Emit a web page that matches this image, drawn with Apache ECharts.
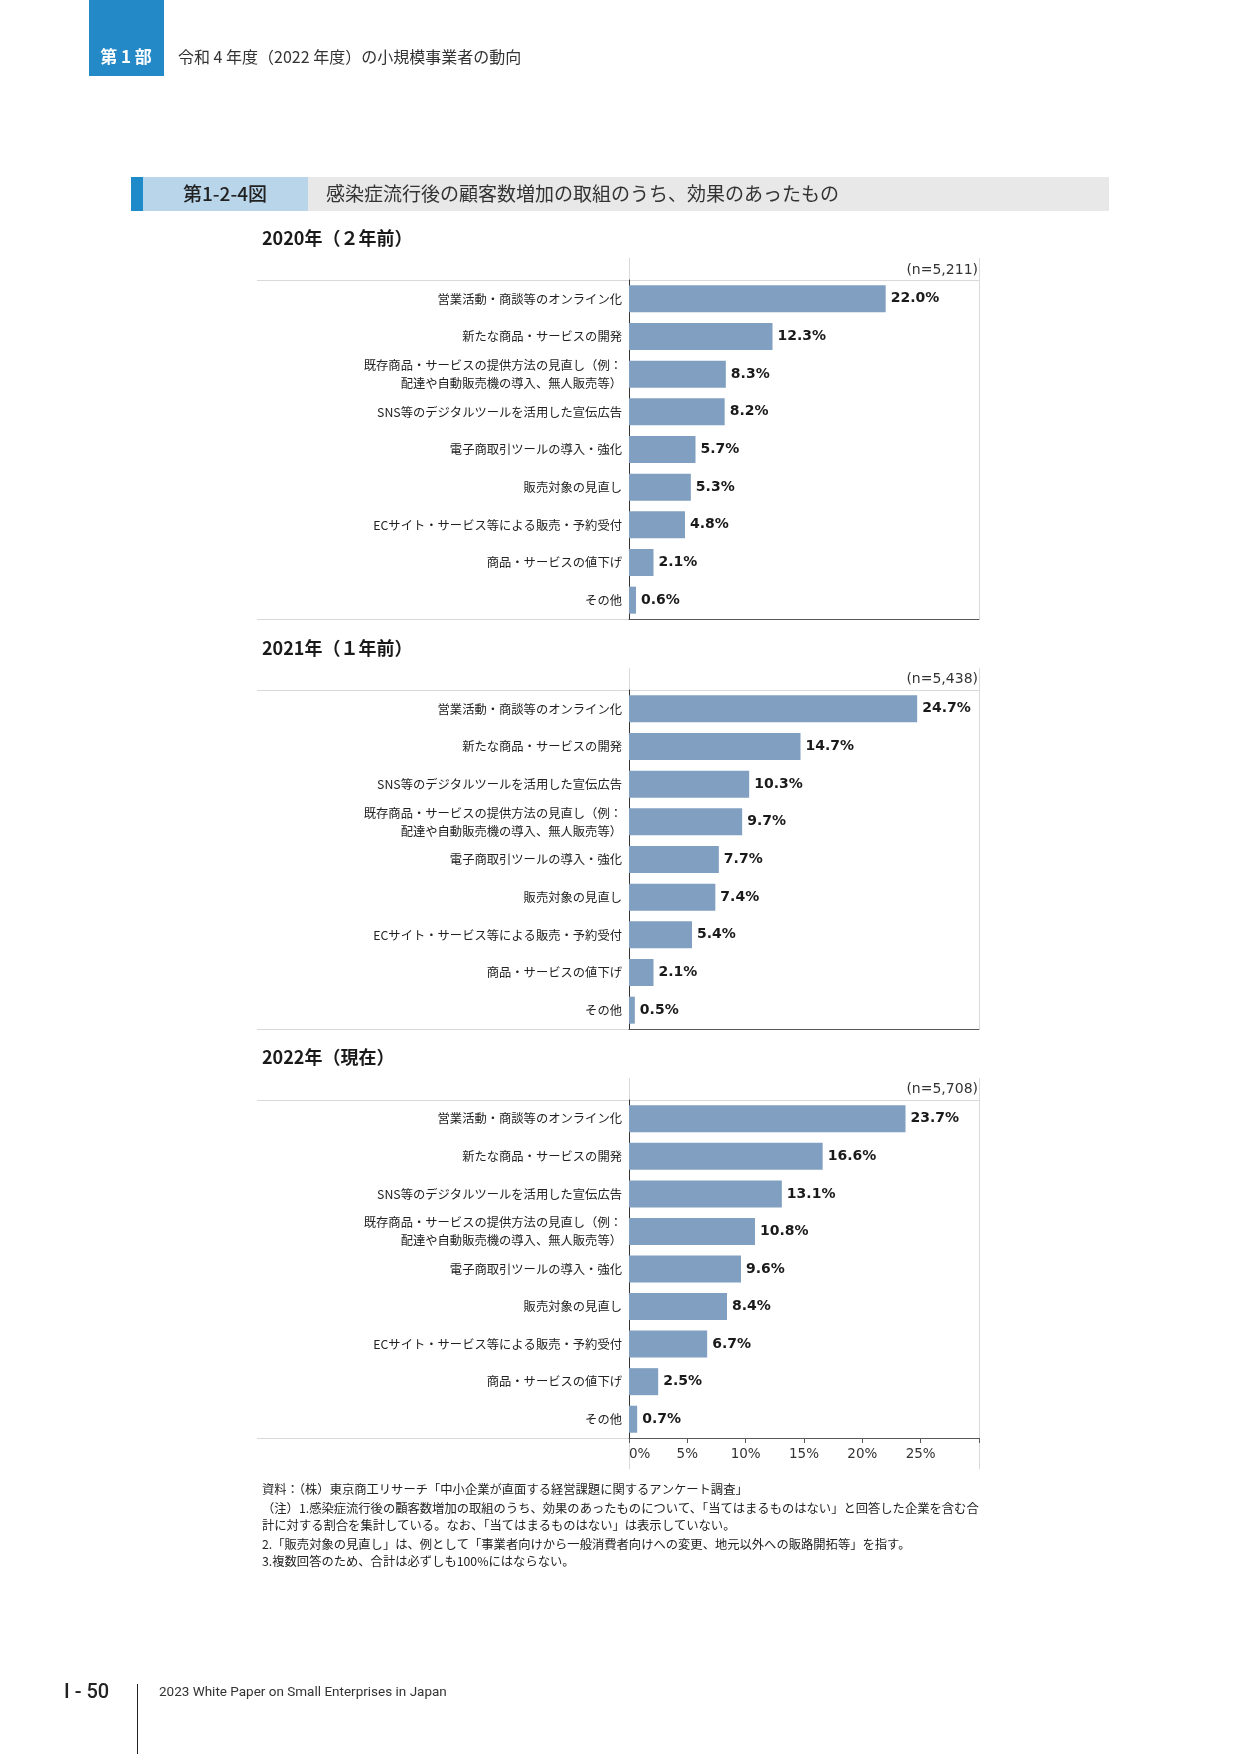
<!DOCTYPE html>
<html>
<head>
<meta charset="utf-8">
<script src="https://cdn.jsdelivr.net/npm/echarts@6/dist/echarts.min.js"></script>
<style>
html,body{margin:0;padding:0;background:#fff;}
#main{width:1241px;height:1754px;}
</style>
</head>
<body>
<div id="main"></div>
<script>
// データ
var cats2020 = ['営業活動・商談等のオンライン化', '新たな商品・サービスの開発', '既存商品・サービスの提供方法の見直し（例：\n配達や自動販売機の導入、無人販売等）', 'SNS等のデジタルツールを活用した宣伝広告', '電子商取引ツールの導入・強化', '販売対象の見直し', 'ECサイト・サービス等による販売・予約受付', '商品・サービスの値下げ', 'その他'];
var vals2020 = [22.0, 12.3, 8.3, 8.2, 5.7, 5.3, 4.8, 2.1, 0.6];
var cats2021 = ['営業活動・商談等のオンライン化', '新たな商品・サービスの開発', 'SNS等のデジタルツールを活用した宣伝広告', '既存商品・サービスの提供方法の見直し（例：\n配達や自動販売機の導入、無人販売等）', '電子商取引ツールの導入・強化', '販売対象の見直し', 'ECサイト・サービス等による販売・予約受付', '商品・サービスの値下げ', 'その他'];
var vals2021 = [24.7, 14.7, 10.3, 9.7, 7.7, 7.4, 5.4, 2.1, 0.5];
var cats2022 = cats2021;
var vals2022 = [23.7, 16.6, 13.1, 10.8, 9.6, 8.4, 6.7, 2.5, 0.7];
var panelTitles = ['2020年（２年前）', '2021年（１年前）', '2022年（現在）'];
var nLabels = ['(n=5,211)', '(n=5,438)', '(n=5,708)'];
var xTicks = [0, 5, 10, 15, 20, 25];

var CJK = '"Noto Sans CJK JP", sans-serif';
var LAT = '"DejaVu Sans", sans-serif';
var barColor = '#809fc1';
var gridLine = '#d9d9d9';

var panelTop = [280, 690, 1100];
var panelH = [339, 339, 338];
var plotL = 629, plotW = 350, rowL = 257;

var myChart = echarts.init(document.getElementById('main'));

var grids = [], xAxes = [], yAxes = [], series = [];
var catsList = [cats2020, cats2021, cats2022];
var valsList = [vals2020, vals2021, vals2022];

for (var i = 0; i < 3; i++) {
	grids.push({left: plotL, top: panelTop[i], width: plotW, height: panelH[i], containLabel: false});
	var last = (i == 2);
	xAxes.push({
		type: 'value', gridIndex: i, min: 0, max: 30, interval: 5,
		axisLine: {show: true, lineStyle: {color: '#595959', width: 1}},
		axisTick: {show: last, length: 5, lineStyle: {color: '#595959'}},
		splitLine: {show: false},
		axisLabel: {
			show: last, margin: 9, color: '#333', fontFamily: LAT, fontSize: 13.5,
			alignMinLabel: 'left',
			formatter: function (v) {
				return xTicks.indexOf(v) >= 0 ? v + '%' : '';
			}
		}
	});
	yAxes.push({
		type: 'category', gridIndex: i, inverse: true, data: catsList[i],
		axisLine: {show: true, lineStyle: {color: '#333', width: 1}},
		axisTick: {show: false},
		axisLabel: {margin: 7, color: '#222', fontFamily: CJK, fontSize: 12.3, lineHeight: 18, align: 'right'}
	});
	series.push({
		type: 'bar', xAxisIndex: i, yAxisIndex: i, data: valsList[i], barWidth: 27,
		itemStyle: {color: barColor},
		label: {
			show: true, position: 'right', distance: 5,
			color: '#1a1a1a', fontFamily: LAT, fontWeight: 'bold', fontSize: 14,
			formatter: function (p) { return p.value.toFixed(1) + '%'; }
		},
		animation: false
	});
}

// 枠線・見出し
var g = [];
function hline(x1, x2, y, c) {
	g.push({type: 'line', silent: true, shape: {x1: x1, y1: y + 0.5, x2: x2, y2: y + 0.5}, style: {stroke: c, lineWidth: 1}});
}
function vline(x, y1, y2, c) {
	g.push({type: 'line', silent: true, shape: {x1: x + 0.5, y1: y1, x2: x + 0.5, y2: y2}, style: {stroke: c, lineWidth: 1}});
}
function txt(x, y, s, font, fill, align) {
	g.push({type: 'text', silent: true, x: x, y: y, style: {text: s, font: font, fill: fill, align: align || 'left', verticalAlign: 'middle'}});
}

// ページヘッダー
g.push({type: 'rect', silent: true, shape: {x: 89, y: 0, width: 75, height: 76}, style: {fill: '#2389c7'}});
txt(126, 57, '第 1 部', 'bold 17px ' + CJK, '#fff', 'center');
txt(178, 57, '令和 4 年度（2022 年度）の小規模事業者の動向', '16px ' + CJK, '#333');

// 図タイトル
g.push({type: 'rect', silent: true, shape: {x: 131, y: 177, width: 978, height: 34}, style: {fill: '#e8e8e8'}});
g.push({type: 'rect', silent: true, shape: {x: 143, y: 177, width: 165, height: 34}, style: {fill: '#b9d5ea'}});
g.push({type: 'rect', silent: true, shape: {x: 131, y: 177, width: 12, height: 34}, style: {fill: '#1f8ac9'}});
txt(225, 194, '第1-2-4図', '500 19px ' + CJK, '#222', 'center');
txt(326, 194, '感染症流行後の顧客数増加の取組のうち、効果のあったもの', '19px ' + CJK, '#333');

var titleY = [238, 648, 1057];
var nY = [270, 679, 1089];
for (var k = 0; k < 3; k++) {
	var T = panelTop[k], B = T + panelH[k];
	txt(262, titleY[k], panelTitles[k], 'bold 18px ' + CJK, '#1a1a1a');
	txt(978, nY[k], nLabels[k], '14px ' + LAT, '#333', 'right');
	hline(rowL, plotL + plotW + 1, T, gridLine);
	hline(rowL, plotL, B, gridLine);
	vline(plotL, T - 22, T, gridLine);
	vline(plotL + plotW, T - 22, k == 2 ? 1469 : B, gridLine);
	if (k == 2) vline(plotL, B, 1469, gridLine);
}

// 注記
var notes = [
	'資料：（株）東京商工リサーチ「中小企業が直面する経営課題に関するアンケート調査」',
	'（注）1.感染症流行後の顧客数増加の取組のうち、効果のあったものについて、「当てはまるものはない」と回答した企業を含む合',
	'計に対する割合を集計している。なお、「当てはまるものはない」は表示していない。',
	'2.「販売対象の見直し」は、例として「事業者向けから一般消費者向けへの変更、地元以外への販路開拓等」を指す。',
	'3.複数回答のため、合計は必ずしも100%にはならない。'
];
var noteY = [1489, 1508, 1525, 1544, 1561];
for (var n = 0; n < notes.length; n++) {
	txt(262, noteY[n], notes[n], '12.3px ' + CJK, '#222');
}

// フッター
txt(64, 1693, 'I - 50', '500 20px Roboto, sans-serif', '#222');
vline(137, 1684, 1754, '#222');
txt(159, 1693, '2023 White Paper on Small Enterprises in Japan', '13.5px Roboto, sans-serif', '#333');

var option = {
	backgroundColor: '#fff',
	animation: false,
	grid: grids,
	xAxis: xAxes,
	yAxis: yAxes,
	series: series,
	graphic: g
};

myChart.setOption(option);
window.onresize = myChart.resize;
</script>
</body>
</html>
